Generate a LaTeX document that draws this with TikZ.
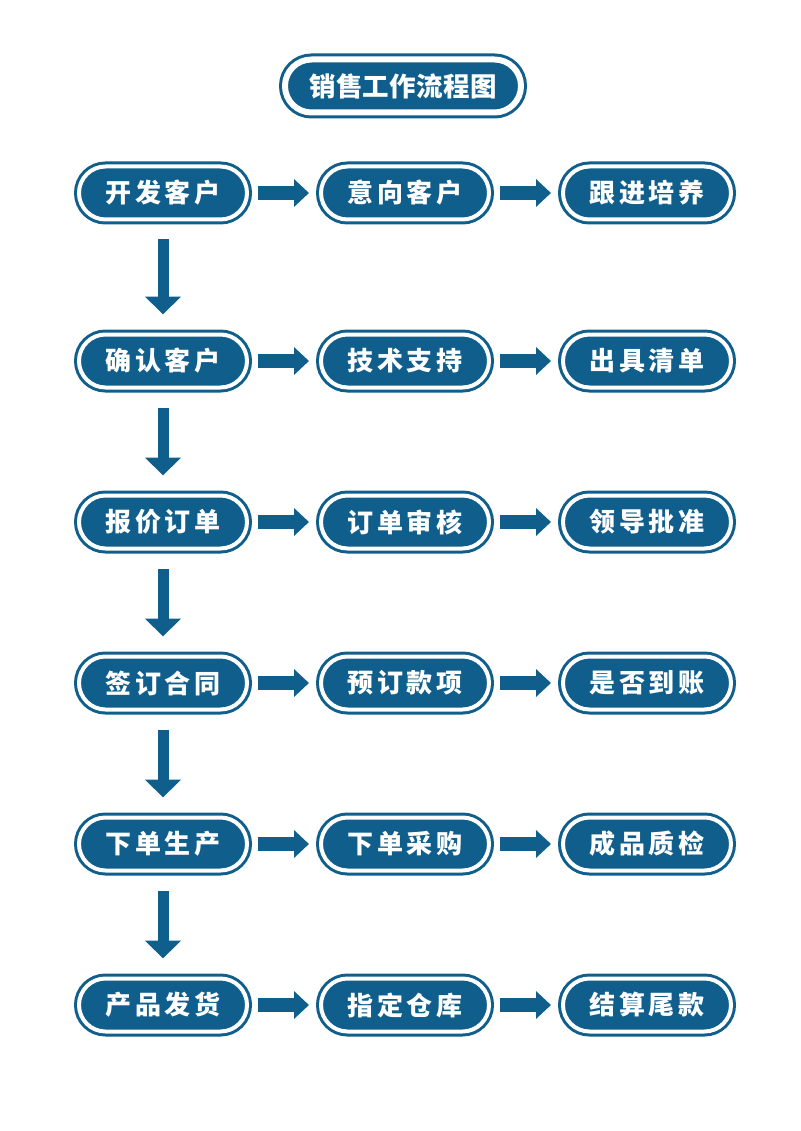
\documentclass[tikz,border=0pt]{standalone}
\usepackage{fontspec}
\newfontfamily\cjk{Noto Sans CJK SC}[LetterSpace=13]
\newfontfamily\cjktitle{Noto Sans CJK SC}[LetterSpace=1]
\usetikzlibrary{arrows.meta, positioning}
\definecolor{flowblue}{RGB}{16, 94, 140}

\begin{document}
\begin{tikzpicture}[x=1pt, y=-1pt,
    flowbox/.style={draw=flowblue, double=white, double distance=4pt, line width=3pt,
        fill=flowblue, rounded corners=26.5pt, minimum width=168pt, minimum height=53pt,
        inner sep=0pt, outer sep=0pt, text=white,
        font=\cjk\bfseries\fontsize{26pt}{26pt}\selectfont},
    titlebox/.style={flowbox, double distance=6pt, minimum width=236pt,
        font=\cjktitle\bfseries\fontsize{26.5pt}{26.5pt}\selectfont},
    rarrow/.style={flowblue, line width=14pt, -{Triangle[length=15pt, width=27pt]},
        shorten <=11pt, shorten >=12pt},
    darrow/.style={flowblue, line width=11pt, -{Triangle[length=18pt, width=35pt]},
        shorten <=20pt, shorten >=20pt}]
    \useasboundingbox (0,0) rectangle (800,1131);

    \node[titlebox] (title) at (403,86) {销售工作流程图};

    % left column
    \node[flowbox] (kfkh) at (163,193) {开发客户};
    \node[flowbox, below=115pt of kfkh] (qrkh) {确认客户};
    \node[flowbox, below=108pt of qrkh] (bjdd) {报价订单};
    \node[flowbox, below=108pt of bjdd] (qdht) {签订合同};
    \node[flowbox, below=108pt of qdht] (xdsc) {下单生产};
    \node[flowbox, below=108pt of xdsc] (cpfh) {产品发货};

    % middle column
    \node[flowbox, right=74pt of kfkh] (yxkh) {意向客户};
    \node[flowbox, right=74pt of qrkh] (jszc) {技术支持};
    \node[flowbox, right=74pt of bjdd] (ddsh) {订单审核};
    \node[flowbox, right=74pt of qdht] (ydkx) {预订款项};
    \node[flowbox, right=74pt of xdsc] (xdcg) {下单采购};
    \node[flowbox, right=74pt of cpfh] (zdck) {指定仓库};

    % right column
    \node[flowbox, right=74pt of yxkh] (gjpy) {跟进培养};
    \node[flowbox, right=74pt of jszc] (cjqd) {出具清单};
    \node[flowbox, right=74pt of ddsh] (ldpz) {领导批准};
    \node[flowbox, right=74pt of ydkx] (sfdz) {是否到账};
    \node[flowbox, right=74pt of xdcg] (cpzj) {成品质检};
    \node[flowbox, right=74pt of zdck] (jswk) {结算尾款};

    \draw[darrow] (kfkh) -- (qrkh);
    \draw[darrow] (qrkh) -- (bjdd);
    \draw[darrow] (bjdd) -- (qdht);
    \draw[darrow] (qdht) -- (xdsc);
    \draw[darrow] (xdsc) -- (cpfh);

    \draw[rarrow] (kfkh) -- (yxkh);
    \draw[rarrow] (yxkh) -- (gjpy);
    \draw[rarrow] (qrkh) -- (jszc);
    \draw[rarrow] (jszc) -- (cjqd);
    \draw[rarrow] (bjdd) -- (ddsh);
    \draw[rarrow] (ddsh) -- (ldpz);
    \draw[rarrow] (qdht) -- (ydkx);
    \draw[rarrow] (ydkx) -- (sfdz);
    \draw[rarrow] (xdsc) -- (xdcg);
    \draw[rarrow] (xdcg) -- (cpzj);
    \draw[rarrow] (cpfh) -- (zdck);
    \draw[rarrow] (zdck) -- (jswk);
\end{tikzpicture}
\end{document}
